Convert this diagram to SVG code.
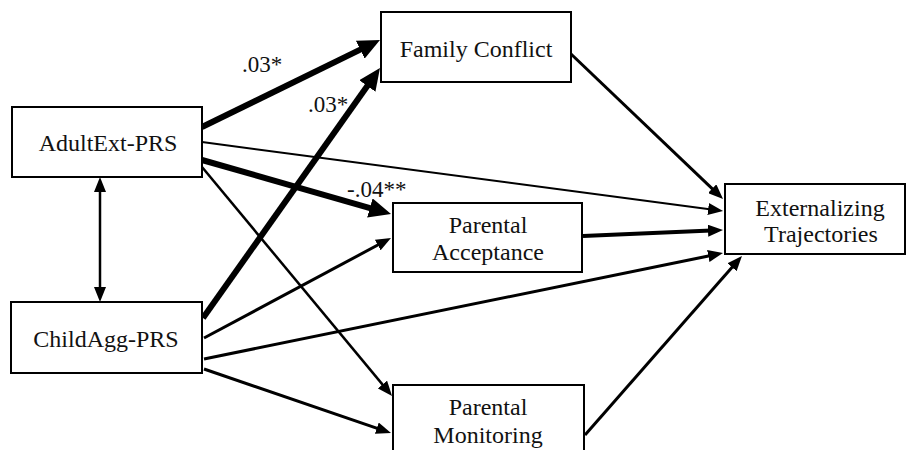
<svg xmlns="http://www.w3.org/2000/svg" width="906" height="450" viewBox="0 0 906 450">
<style>
.box{fill:#fff;stroke:#000;stroke-width:2}
.t{font-family:"Liberation Serif","Times New Roman",serif;font-size:24px;fill:#111;text-anchor:middle}
.lbl{font-family:"Liberation Serif","Times New Roman",serif;font-size:23px;fill:#111}
.c{stroke:#000;fill:none}
.thick{stroke-width:6;marker-end:url(#big)}
.reg{stroke-width:3;marker-end:url(#sm)}
.thin{stroke-width:2;marker-end:url(#sm)}
</style>
<defs>
<marker id="big" markerUnits="userSpaceOnUse" markerWidth="22" markerHeight="20" refX="12" refY="10" orient="auto" viewBox="0 0 22 20"><path d="M0,0 L22,10 L0,20 z" fill="#000"/></marker>
<marker id="sm" markerUnits="userSpaceOnUse" markerWidth="15" markerHeight="12" refX="9" refY="6" orient="auto" viewBox="0 0 15 12"><path d="M0,0 L15,6 L0,12 z" fill="#000"/></marker>
<marker id="sm2" markerUnits="userSpaceOnUse" markerWidth="15" markerHeight="12" refX="9" refY="6" orient="auto-start-reverse" viewBox="0 0 15 12"><path d="M0,0 L15,6 L0,12 z" fill="#000"/></marker>
</defs>
<g id="connectors">
<line class="c thick" x1="202" y1="127" x2="371" y2="44.4"/>
<line class="c thick" x1="203" y1="318" x2="374.2" y2="76.2"/>
<line class="c thin" x1="202" y1="142" x2="717.1" y2="210.2"/>
<line class="c thick" x1="202" y1="160" x2="381.4" y2="211.3"/>
<line class="c" stroke-width="2.5" marker-end="url(#sm)" x1="202" y1="167" x2="388.2" y2="391.4"/>
<line class="c" stroke-width="2.5" marker-start="url(#sm2)" marker-end="url(#sm2)" x1="100" y1="183" x2="100" y2="296"/>
<line class="c reg" x1="204" y1="338" x2="385.7" y2="240.8"/>
<line class="c reg" x1="204" y1="359" x2="717.1" y2="254.2"/>
<line class="c reg" x1="204" y1="369" x2="385.3" y2="431.1"/>
<line class="c reg" x1="571" y1="54" x2="718.7" y2="194.9"/>
<line class="c" stroke-width="4" marker-end="url(#sm)" x1="583" y1="236" x2="717" y2="230.3"/>
<line class="c reg" x1="585" y1="435" x2="738" y2="260.5"/>
</g>
<g id="labels">
<text class="lbl" x="242" y="72">.03*</text>
<text class="lbl" x="308" y="112">.03*</text>
<text class="lbl" x="347" y="197">-.04**</text>
</g>
<g id="adultext">
<rect class="box" x="12" y="107" width="190" height="70"/>
<text class="t" x="108" y="151">AdultExt-PRS</text>
</g>
<g id="childagg">
<rect class="box" x="11" y="302" width="191" height="71"/>
<text class="t" x="106" y="347">ChildAgg-PRS</text>
</g>
<g id="familyconflict">
<rect class="box" x="381" y="12" width="190" height="70"/>
<text class="t" x="476" y="57">Family Conflict</text>
</g>
<g id="acceptance">
<rect class="box" x="393" y="203" width="189" height="69"/>
<text class="t" x="488" y="233">Parental</text>
<text class="t" x="488" y="260">Acceptance</text>
</g>
<g id="monitoring">
<rect class="box" x="393" y="385" width="191" height="80"/>
<text class="t" x="488" y="415">Parental</text>
<text class="t" x="488" y="443">Monitoring</text>
</g>
<g id="externalizing">
<rect class="box" x="725" y="184" width="180" height="70"/>
<text class="t" x="820" y="216">Externalizing</text>
<text class="t" x="821" y="242">Trajectories</text>
</g>
</svg>
